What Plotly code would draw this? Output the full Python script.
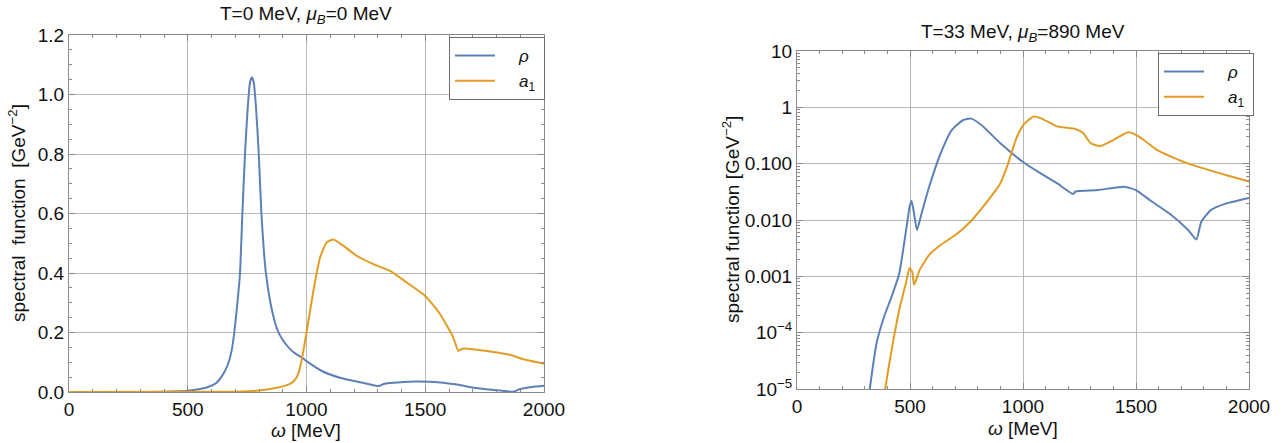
import plotly.graph_objects as go

# ---------- data ----------
# Left panel: T=0 MeV, mu_B=0 MeV (linear axis)
omega_rho_L = [0, 400, 509, 580, 620, 649, 670, 685, 696, 708, 720, 730, 741, 752, 762, 770, 778,
               788, 799, 810, 820, 829, 848, 862, 877, 900, 930, 955, 980, 1000, 1071, 1141, 1211, 1260,
               1303, 1325, 1352, 1410, 1464, 1562, 1640, 1703, 1790, 1871, 1900, 1950, 2000]
rho_L = [0, 0.0005, 0.005, 0.015, 0.03, 0.06, 0.095, 0.14, 0.2, 0.29, 0.4, 0.6, 0.8, 0.95, 1.04,
         1.058, 1.04, 0.95, 0.8, 0.6, 0.48, 0.4, 0.3, 0.25, 0.21, 0.175, 0.145, 0.128, 0.116, 0.104,
         0.068, 0.048, 0.035, 0.027, 0.02, 0.027, 0.03, 0.034, 0.035, 0.032, 0.024, 0.0145, 0.007,
         0.001, 0.01, 0.017, 0.021]

omega_a1_L = [0, 600, 700, 790, 874, 931, 955, 967, 975, 985, 1000, 1029, 1057, 1085, 1113, 1155,
              1211, 1281, 1352, 1422, 1500, 1562, 1618, 1639, 1649, 1667, 1773, 1857, 1913, 2000]
a1_L = [0, 0.0005, 0.001, 0.004, 0.014, 0.027, 0.045, 0.065, 0.09, 0.13, 0.2, 0.34, 0.452, 0.503,
        0.513, 0.492, 0.458, 0.43, 0.407, 0.368, 0.323, 0.262, 0.183, 0.138, 0.143, 0.146, 0.136,
        0.125, 0.11, 0.095]

# Right panel: T=33 MeV, mu_B=890 MeV (log axis)
omega_rho_R = [310, 322, 352, 385, 419, 452, 470, 485, 498, 507, 518, 531, 551, 585, 635, 684, 734,
               771, 817, 900, 1000, 1066, 1150, 1221, 1233, 1332, 1448, 1500, 1565, 1648, 1731, 1767,
               1789, 1831, 1897, 2000]
rho_R = [4e-6, 1e-5, 6.5e-5, 1.9e-4, 4.4e-4, 1.1e-3, 3e-3, 7.6e-3, 0.017, 0.022, 0.013, 0.0066,
         0.013, 0.039, 0.15, 0.39, 0.59, 0.63, 0.48, 0.23, 0.107, 0.072, 0.045, 0.029, 0.032, 0.034,
         0.039, 0.034, 0.022, 0.013, 0.0066, 0.0045, 0.0093, 0.015, 0.0195, 0.0246]

omega_a1_R = [380, 390, 419, 452, 482, 498, 510, 518, 543, 585, 635, 701, 767, 834, 900, 934, 967,
              1000, 1047, 1083, 1150, 1233, 1266, 1300, 1340, 1398, 1465, 1515, 1598, 1731, 1897, 2000]
a1_R = [5e-6, 1e-5, 5e-5, 2.5e-4, 7.6e-4, 1.4e-3, 1.2e-3, 7.1e-4, 1.3e-3, 2.4e-3, 3.6e-3, 5.4e-3,
        9.3e-3, 0.0195, 0.045, 0.1, 0.26, 0.48, 0.69, 0.63, 0.46, 0.41, 0.35, 0.23, 0.205, 0.26,
        0.36, 0.30, 0.17, 0.10, 0.063, 0.048]

x_ticks = [0, 500, 1000, 1500, 2000]
y_ticks_L = [0.0, 0.2, 0.4, 0.6, 0.8, 1.0, 1.2]
y_ticktext_L = ["0.0", "0.2", "0.4", "0.6", "0.8", "1.0", "1.2"]
y_ticks_R = [1e-5, 1e-4, 1e-3, 1e-2, 1e-1, 1, 10]
y_ticktext_R = ["10<sup>−5</sup>", "10<sup>−4</sup>", "0.001", "0.010", "0.100", "1", "10"]

BLUE = "#5E81B5"
ORANGE = "#E19C24"
W, H = 1288, 443
FONT = "Liberation Sans, Arial, sans-serif"
PAD = "&nbsp;&nbsp;&nbsp;&nbsp;"
NAME_RHO = PAD + "<i>ρ</i>&nbsp;&nbsp;"
NAME_A1 = PAD + "<i>a</i><sub>1</sub>"

fig = go.Figure()
line_kw = dict(width=2, shape="spline", smoothing=0.5)
fig.add_trace(go.Scatter(x=omega_rho_L, y=rho_L, mode="lines", name=NAME_RHO,
                         line=dict(color=BLUE, **line_kw), xaxis="x", yaxis="y", legend="legend"))
fig.add_trace(go.Scatter(x=omega_a1_L, y=a1_L, mode="lines", name=NAME_A1,
                         line=dict(color=ORANGE, **line_kw), xaxis="x", yaxis="y", legend="legend"))
fig.add_trace(go.Scatter(x=omega_rho_R, y=rho_R, mode="lines", name=NAME_RHO,
                         line=dict(color=BLUE, **line_kw), xaxis="x2", yaxis="y2", legend="legend2"))
fig.add_trace(go.Scatter(x=omega_a1_R, y=a1_R, mode="lines", name=NAME_A1,
                         line=dict(color=ORANGE, **line_kw), xaxis="x2", yaxis="y2", legend="legend2"))

def px_x(p):
    return p / W

def px_y(p):
    return 1 - p / H

axis_common = dict(showline=True, linecolor="#8a8a8a", linewidth=1, mirror="ticks",
                   ticks="inside", ticklen=6, tickcolor="#8a8a8a", showgrid=True,
                   gridcolor="#b8b8b8", gridwidth=1, zeroline=False, automargin=False,
                   tickfont=dict(family=FONT, size=19, color="#111"))
minor_kw = dict(ticks="inside", ticklen=3, tickcolor="#8a8a8a", showgrid=False)

legend_common = dict(xanchor="left", yanchor="top", bgcolor="white", bordercolor="#6e6e6e",
                     borderwidth=1, font=dict(family=FONT, size=17), itemwidth=40, tracegroupgap=0)

fig.update_layout(
    width=W, height=H, margin=dict(l=0, r=0, t=0, b=0, autoexpand=False),
    paper_bgcolor="white", plot_bgcolor="white",
    font=dict(family=FONT, color="#111"),
    xaxis=dict(domain=[px_x(69), px_x(544)], range=[0, 2000], tickvals=x_ticks,
               minor=dict(dtick=100, **minor_kw), anchor="y", **axis_common),
    yaxis=dict(domain=[px_y(392), px_y(35)], range=[0, 1.2], tickvals=y_ticks_L, ticktext=y_ticktext_L,
               minor=dict(dtick=0.05, **minor_kw), anchor="x", **axis_common),
    xaxis2=dict(domain=[px_x(797), px_x(1249)], range=[0, 2000], tickvals=x_ticks,
                minor=dict(dtick=100, **minor_kw), anchor="y2", **axis_common),
    yaxis2=dict(domain=[px_y(389), px_y(51)], type="log", range=[-5, 1], tickvals=y_ticks_R,
                ticktext=y_ticktext_R, minor=dict(dtick="D1", **minor_kw),
                anchor="x2", **axis_common),
    legend=dict(x=px_x(449), y=px_y(37), **legend_common),
    legend2=dict(x=px_x(1158), y=px_y(53), **legend_common),
    showlegend=True,
)

annotations = [
    dict(text="T=0 MeV, <i>μ</i><sub><i>B</i></sub>=0 MeV", x=px_x(306), y=px_y(15), xref="paper",
         yref="paper", showarrow=False, font=dict(family=FONT, size=19), xanchor="center", yanchor="middle"),
    dict(text="T=33 MeV, <i>μ</i><sub><i>B</i></sub>=890 MeV", x=px_x(1023), y=px_y(33), xref="paper",
         yref="paper", showarrow=False, font=dict(family=FONT, size=19), xanchor="center", yanchor="middle"),
    dict(text="<i>ω</i> [MeV]", x=px_x(306), y=px_y(430), xref="paper", yref="paper", showarrow=False,
         font=dict(family=FONT, size=19), xanchor="center", yanchor="middle"),
    dict(text="<i>ω</i> [MeV]", x=px_x(1023), y=px_y(428), xref="paper", yref="paper", showarrow=False,
         font=dict(family=FONT, size=19), xanchor="center", yanchor="middle"),
    dict(text="spectral  function  [GeV<sup>−2</sup>]", x=px_x(17), y=px_y(213), xref="paper",
         yref="paper", showarrow=False, textangle=-90, font=dict(family=FONT, size=19),
         xanchor="center", yanchor="middle"),
    dict(text="spectral function [GeV<sup>−2</sup>]", x=px_x(731), y=px_y(220), xref="paper",
         yref="paper", showarrow=False, textangle=-90, font=dict(family=FONT, size=19),
         xanchor="center", yanchor="middle"),
]
fig.update_layout(annotations=annotations)

fig.write_html("out.html", config={"displayModeBar": False},
               post_script="document.body.style.margin='0';document.body.style.overflow='hidden';")
